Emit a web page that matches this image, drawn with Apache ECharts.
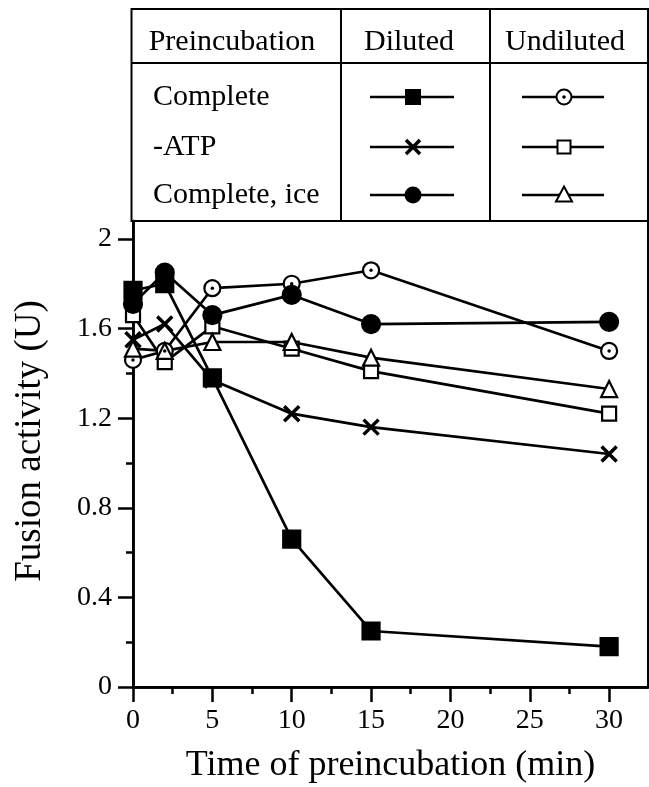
<!DOCTYPE html>
<html>
<head>
<meta charset="utf-8">
<script src="https://cdn.jsdelivr.net/npm/echarts@6/dist/echarts.min.js"></script>
<style>
html,body{margin:0;padding:0;background:#fff;}
#chart{width:649px;height:787px;}
</style>
</head>
<body>
<div id="chart"></div>
<script>
// ---- data ----
const times = [0, 2, 5, 10, 15, 30];
const dilutedComplete = [1.77, 1.80, 1.38, 0.66, 0.25, 0.18];
const dilutedNoATP = [1.55, 1.62, 1.37, 1.22, 1.16, 1.04];
const dilutedIce = [1.71, 1.85, 1.66, 1.75, 1.62, 1.63];
const undilutedComplete = [1.46, 1.50, 1.78, 1.80, 1.86, 1.50];
const undilutedNoATP = [1.66, 1.45, 1.61, 1.51, 1.41, 1.22];
const undilutedIce = [1.51, 1.50, 1.54, 1.54, 1.47, 1.33];
const yMajorTicks = [0, 0.4, 0.8, 1.2, 1.6, 2];
const yMinorTicks = [0.2, 0.6, 1.0, 1.4, 1.8];
const xMajorTicks = [0, 5, 10, 15, 20, 25, 30];
const xMinorTicks = [2.5, 7.5, 12.5, 17.5, 22.5, 27.5];
const rowLabels = ['Complete', '-ATP', 'Complete, ice'];
const headerLabels = ['Preincubation', 'Diluted', 'Undiluted'];
const xTitle = 'Time of preincubation (min)';
const yTitle = 'Fusion activity (U)';

const FONT = '"Liberation Serif", serif';
const pairs = arr => times.map((t, i) => [t, arr[i]]);
const crossPath = 'path://M0,0L10,10M10,0L0,10';

const chart = echarts.init(document.getElementById('chart'), null, {renderer: 'canvas'});

function lineSeries(name, data, symbol, size, filled, extra) {
  return Object.assign({
    name, type: 'line', data: pairs(data), symbol, symbolSize: size,
    lineStyle: {color: '#000', width: 2.7},
    itemStyle: {color: filled ? '#000' : '#fff', borderColor: '#000', borderWidth: 2.2, opacity: 1},
    showSymbol: true, animation: false, z: 3
  }, extra || {});
}

// table geometry (layout only)
const T = {l: 131.5, r: 648, t: 9, h: 63, b: 221, c1: 341, c2: 490};
const rowY = [97, 147, 195];
const dCx = 413, uCx = 564;
const graphics = [];
graphics.push({type: 'rect', shape: {x: T.l, y: T.t, width: T.r - T.l, height: T.b - T.t}, style: {fill: 'none', stroke: '#000', lineWidth: 2}, z: 10});
graphics.push({type: 'line', shape: {x1: T.l, y1: T.h, x2: T.r, y2: T.h}, style: {stroke: '#000', lineWidth: 2}, z: 10});
graphics.push({type: 'line', shape: {x1: T.c1, y1: T.t, x2: T.c1, y2: T.b}, style: {stroke: '#000', lineWidth: 2}, z: 10});
graphics.push({type: 'line', shape: {x1: T.c2, y1: T.t, x2: T.c2, y2: T.b}, style: {stroke: '#000', lineWidth: 2}, z: 10});
const hx = [232, 409, 565];
headerLabels.forEach((s, i) => graphics.push({type: 'text', x: hx[i], y: 42, style: {text: s, font: '30px ' + FONT, fill: '#000', align: 'center', verticalAlign: 'middle'}, z: 10}));
rowLabels.forEach((s, i) => graphics.push({type: 'text', x: 153, y: rowY[i], style: {text: s, font: '30px ' + FONT, fill: '#000', align: 'left', verticalAlign: 'middle'}, z: 10}));
rowY.forEach(y => {
  graphics.push({type: 'line', shape: {x1: 370, y1: y, x2: 454, y2: y}, style: {stroke: '#000', lineWidth: 2.5}, z: 10});
  graphics.push({type: 'line', shape: {x1: 522, y1: y, x2: 604, y2: y}, style: {stroke: '#000', lineWidth: 2.5}, z: 10});
});
// diluted legend markers
graphics.push({type: 'rect', shape: {x: dCx - 8, y: rowY[0] - 8, width: 16, height: 16}, style: {fill: '#000'}, z: 11});
graphics.push({type: 'line', shape: {x1: dCx - 7, y1: rowY[1] - 7, x2: dCx + 7, y2: rowY[1] + 7}, style: {stroke: '#000', lineWidth: 3.5}, z: 11});
graphics.push({type: 'line', shape: {x1: dCx + 7, y1: rowY[1] - 7, x2: dCx - 7, y2: rowY[1] + 7}, style: {stroke: '#000', lineWidth: 3.5}, z: 11});
graphics.push({type: 'circle', shape: {cx: dCx, cy: rowY[2], r: 8.5}, style: {fill: '#000'}, z: 11});
// undiluted legend markers
graphics.push({type: 'circle', shape: {cx: uCx, cy: rowY[0], r: 7.5}, style: {fill: '#fff', stroke: '#000', lineWidth: 2}, z: 11});
graphics.push({type: 'circle', shape: {cx: uCx, cy: rowY[0], r: 1.8}, style: {fill: '#000'}, z: 12});
graphics.push({type: 'rect', shape: {x: uCx - 6.5, y: rowY[1] - 6.5, width: 13, height: 13}, style: {fill: '#fff', stroke: '#000', lineWidth: 2}, z: 11});
graphics.push({type: 'polygon', shape: {points: [[uCx, rowY[2] - 8.5], [uCx + 8, rowY[2] + 6.5], [uCx - 8, rowY[2] + 6.5]]}, style: {fill: '#fff', stroke: '#000', lineWidth: 2}, z: 11});
// y title
graphics.push({type: 'text', x: 30, y: 441, rotation: Math.PI / 2, style: {text: yTitle, font: '37px ' + FONT, fill: '#000', align: 'center', verticalAlign: 'middle'}, z: 10});

const axisCommon = {
  axisLine: {show: true, lineStyle: {color: '#000', width: 2.5}},
  splitLine: {show: false}
};

const option = {
  backgroundColor: '#fff',
  animation: false,
  grid: {left: 133, right: 1, top: 221, bottom: 100, show: true, borderColor: '#000', borderWidth: 2, backgroundColor: 'transparent', containLabel: false, outerBoundsMode: 'none'},
  xAxis: [
    Object.assign({type: 'value', min: 0, max: 32.45, interval: 5,
      axisTick: {show: true, inside: false, length: 15, lineStyle: {color: '#000', width: 2.5}, customValues: xMajorTicks},
      axisLabel: {show: true, color: '#000', fontFamily: FONT, fontSize: 28, margin: 20, customValues: xMajorTicks},
      name: xTitle, nameLocation: 'middle', nameGap: 61,
      nameTextStyle: {color: '#000', fontFamily: FONT, fontSize: 36}
    }, axisCommon),
    Object.assign({type: 'value', min: 0, max: 32.45, position: 'bottom',
      axisTick: {show: true, inside: false, length: 7, lineStyle: {color: '#000', width: 2.5}, customValues: xMinorTicks},
      axisLabel: {show: false}
    }, axisCommon)
  ],
  yAxis: [
    Object.assign({type: 'value', min: 0, max: 2.08, interval: 0.4,
      axisTick: {show: true, inside: false, length: 15, lineStyle: {color: '#000', width: 2.5}, customValues: yMajorTicks},
      axisLabel: {show: true, color: '#000', fontFamily: FONT, fontSize: 28, margin: 21, customValues: yMajorTicks,
        formatter: v => (Math.abs(v) < 1e-9 ? '0' : (Math.round(v * 10) / 10).toString())}
    }, axisCommon),
    Object.assign({type: 'value', min: 0, max: 2.08, position: 'left',
      axisTick: {show: true, inside: false, length: 7, lineStyle: {color: '#000', width: 2.5}, customValues: yMinorTicks},
      axisLabel: {show: false}
    }, axisCommon)
  ],
  graphic: graphics,
  series: [
    lineSeries('Undiluted Complete', undilutedComplete, 'circle', 16, false),
    {type: 'line', name: 'dot', data: pairs(undilutedComplete), symbol: 'circle', symbolSize: 3.5,
      lineStyle: {width: 0, opacity: 0}, itemStyle: {color: '#000'}, z: 5, animation: false, silent: true},
    lineSeries('Undiluted -ATP', undilutedNoATP, 'rect', 14, false),
    lineSeries('Undiluted ice', undilutedIce, 'triangle', 16, false),
    lineSeries('Diluted -ATP', dilutedNoATP, crossPath, 15, false, {itemStyle: {color: '#000', borderColor: '#000', borderWidth: 3.5}}),
    lineSeries('Diluted ice', dilutedIce, 'circle', 18, true),
    lineSeries('Diluted Complete', dilutedComplete, 'rect', 17, true)
  ]
};
chart.setOption(option);
</script>
</body>
</html>
